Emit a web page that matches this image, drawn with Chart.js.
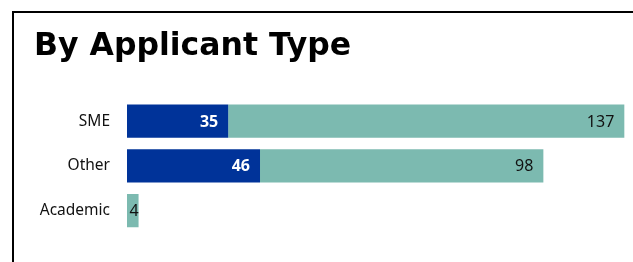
<!DOCTYPE html>
<html>
<head>
<meta charset="utf-8">
<script src="https://cdn.jsdelivr.net/npm/chart.js@4.4.1/dist/chart.umd.min.js"></script>
<style>
  html, body { margin: 0; padding: 0; background: #fff; overflow: hidden; }
  #wrap { position: relative; width: 633px; height: 262px; }
  #frame { position: absolute; left: 12px; top: 11px; width: 700px; height: 300px;
           border: 2px solid #000; box-sizing: border-box; pointer-events: none; }
</style>
</head>
<body>
<div id="wrap">
  <canvas id="myChart" width="633" height="262"></canvas>
  <div id="frame"></div>
</div>
<script>
var categories = ['SME', 'Other', 'Academic'];
var darkValues = [35, 46, null];
var tealValues = [137, 98, 4];

var barLabels = {
  id: 'barLabels',
  afterDatasetsDraw: function(chart) {
    var ctx = chart.ctx;
    ctx.save();
    ctx.textAlign = 'right';
    ctx.textBaseline = 'middle';
    chart.data.datasets.forEach(function(ds, i) {
      var meta = chart.getDatasetMeta(i);
      meta.data.forEach(function(bar, j) {
        var v = ds.data[j];
        if (v === null || v === undefined) return;
        ctx.font = (i === 0 ? 'bold ' : '') + '16px "Noto Sans"';
        ctx.fillStyle = i === 0 ? '#ffffff' : '#111111';
        var w = bar.x - bar.base;
        var pad = w < 30 ? 0 : 10;
        ctx.fillText(String(v), bar.x - pad, bar.y + 1);
      });
    });
    ctx.restore();
  }
};

var ctx = document.getElementById('myChart').getContext('2d');
var myChart = new Chart(ctx, {
  type: 'bar',
  data: {
    labels: categories,
    datasets: [{
      data: darkValues,
      backgroundColor: '#003399',
      barPercentage: 0.74,
      categoryPercentage: 1
    }, {
      data: tealValues,
      backgroundColor: '#7cbab0',
      barPercentage: 0.74,
      categoryPercentage: 1
    }]
  },
  options: {
    indexAxis: 'y',
    responsive: false,
    animation: false,
    layout: { padding: { left: 34, right: 0, top: 0, bottom: 29 } },
    plugins: {
      legend: { display: false },
      tooltip: { enabled: false },
      title: {
        display: true,
        text: 'By Applicant Type',
        align: 'start',
        color: '#000',
        font: { family: 'DejaVu Sans', weight: 'bold', size: 31.5 },
        padding: { top: 28, bottom: 33 }
      }
    },
    scales: {
      x: { display: false, stacked: true, min: 0, max: 175 },
      y: {
        stacked: true,
        grid: { display: false, drawTicks: false },
        border: { display: false },
        ticks: { color: '#111', padding: 17, font: { family: 'Noto Sans', size: 15.5 } },
        afterFit: function(scale) { scale.width = 93; }
      }
    }
  },
  plugins: [barLabels]
});
</script>
</body>
</html>
